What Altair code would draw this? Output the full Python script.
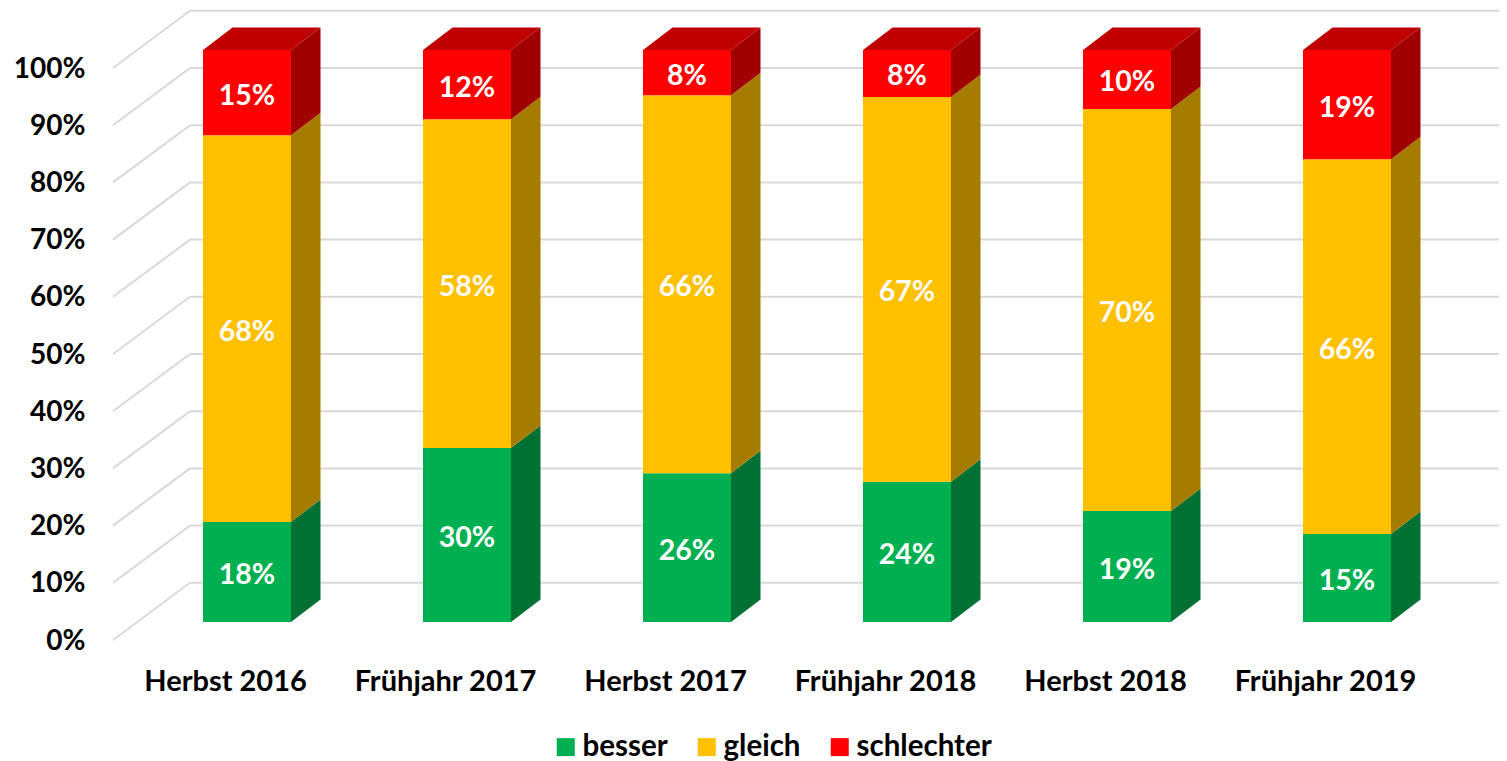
import altair as alt
import pandas as pd

categories = ["Herbst 2016", "Frühjahr 2017", "Herbst 2017", "Frühjahr 2018", "Herbst 2018", "Frühjahr 2019"]
series = ["besser", "gleich", "schlechter"]
besser = [17.5, 30.4, 26.0, 24.5, 19.4, 15.4]
gleich = [67.6, 57.5, 66.1, 67.3, 70.3, 65.5]
schlechter = [14.9, 12.1, 7.9, 8.2, 10.3, 19.1]
label_besser = [18, 30, 26, 24, 19, 15]
label_gleich = [68, 58, 66, 67, 70, 66]
label_schlechter = [15, 12, 8, 8, 10, 19]
ticks = list(range(0, 101, 10))

front_colors = ["#00B050", "#FFC000", "#FF0000"]
side_colors = ["#007033", "#A67C00", "#A00000"]
top_color = "#C00000"

FONT = "Lato"
PX_X = 220.0
PX_Y = 5.72
X_DOM = [(113 - 247) / PX_X, (1499 - 247) / PX_X]
Y_DOM = [0, 100 + 60 / PX_Y]
HALF = 44 / PX_X
DEPTH_X = 29.5 / PX_X
DEPTH_Y = 22.5 / PX_Y
LIFT = 18 / PX_Y
BACK_X = 77 / PX_X
BACK_Y = 10.0

xs = alt.Scale(domain=X_DOM, nice=False, zero=False)
ys = alt.Scale(domain=Y_DOM, nice=False, zero=False)


def X(field="x"):
    return alt.X(f"{field}:Q", scale=xs, title=None)


def Y(field="y"):
    return alt.Y(f"{field}:Q", scale=ys, title=None)


front, sides, labels, tops = [], [], [], []
for i in range(len(categories)):
    base = LIFT
    vals = [besser[i], gleich[i], schlechter[i]]
    labs = [label_besser[i], label_gleich[i], label_schlechter[i]]
    for s, v, lab in zip(series, vals, labs):
        lo, hi = base, base + v
        front.append(dict(series=s, x=i - HALF, x2=i + HALF, y=lo, y2=hi))
        sides.append(dict(series=s, i=i, x=i + HALF, y=lo, y2=hi))
        sides.append(dict(series=s, i=i, x=i + HALF + DEPTH_X, y=lo + DEPTH_Y, y2=hi + DEPTH_Y))
        labels.append(dict(x=i, y=(lo + hi) / 2, text=f"{lab}%"))
        base = hi
    tops.append(dict(i=i, y=base, x=i - HALF, x2=i + HALF))
    tops.append(dict(i=i, y=base + DEPTH_Y, x=i - HALF + DEPTH_X, x2=i + HALF + DEPTH_X))

front_df = pd.DataFrame(front)
side_df = pd.DataFrame(sides)
label_df = pd.DataFrame(labels)
top_df = pd.DataFrame(tops)

back_df = pd.DataFrame([dict(y=t + BACK_Y, x=X_DOM[0] + BACK_X, x2=X_DOM[1]) for t in ticks])
diag_df = pd.DataFrame(
    [dict(t=t, x=X_DOM[0], y=t) for t in ticks] + [dict(t=t, x=X_DOM[0] + BACK_X, y=t + BACK_Y) for t in ticks]
)
GRID = "#D9D9D9"

axis_src = pd.DataFrame(dict(x=[0, 5], y=[0, 100]))
axes = alt.Chart(axis_src).mark_point(opacity=0).encode(
    x=alt.X(
        "x:Q",
        scale=xs,
        title=None,
        axis=alt.Axis(
            values=list(range(len(categories))),
            labelExpr="[" + ",".join(f"'{c}'" for c in categories) + "][datum.value]",
            domain=False,
            ticks=False,
            grid=False,
            labelFont=FONT,
            labelFontWeight="bold",
            labelFontSize=29,
            labelColor="#000000",
            labelPadding=27,
            labelOffset=-22,
            labelLimit=300,
            labelOverlap=False,
            labelFlush=False,
        ),
    ),
    y=alt.Y(
        "y:Q",
        scale=ys,
        title=None,
        axis=alt.Axis(
            values=ticks,
            labelExpr="datum.value + '%'",
            domain=False,
            ticks=False,
            grid=False,
            labelFont=FONT,
            labelFontWeight="bold",
            labelFontSize=28,
            labelColor="#000000",
            labelPadding=28,
            labelOffset=1,
            labelOverlap=False,
            labelFlush=False,
        ),
    ),
)

grid_back = alt.Chart(back_df).mark_rule(color=GRID, strokeWidth=2).encode(x=X(), x2="x2:Q", y=Y())
grid_diag = alt.Chart(diag_df).mark_line(color=GRID, strokeWidth=2).encode(x=X(), y=Y(), detail="t:N")

side_layers = [
    alt.Chart(side_df[side_df.series == s]).mark_area(color=c).encode(x=X(), y=Y(), y2="y2:Q", detail="i:N")
    for s, c in zip(series, side_colors)
]
top_layer = alt.Chart(top_df).mark_area(color=top_color, orient="horizontal").encode(
    y=Y(), x=X(), x2="x2:Q", detail="i:N"
)

bars = alt.Chart(front_df).mark_rect().encode(
    x=X(),
    x2="x2:Q",
    y=Y(),
    y2="y2:Q",
    color=alt.Color(
        "series:N",
        scale=alt.Scale(domain=series, range=front_colors),
        legend=alt.Legend(
            title=None,
            orient="none",
            legendX=438,
            legendY=724,
            direction="horizontal",
            columns=3,
            symbolType="square",
            symbolSize=324,
            symbolStrokeWidth=0,
            labelFont=FONT,
            labelFontWeight="bold",
            labelFontSize=29.5,
            labelColor="#000000",
            labelOffset=2,
            columnPadding=24,
            labelLimit=300,
            symbolOpacity=1,
        ),
    ),
)

texts = alt.Chart(label_df).mark_text(
    color="white", font=FONT, fontWeight="bold", fontSize=28.5, align="center", baseline="middle", dy=3
).encode(x=X(), y=Y(), text="text:N")

chart = alt.layer(axes, grid_back, grid_diag, *side_layers, top_layer, bars, texts).properties(
    width=1386,
    height=632,
    padding={"left": 105, "top": 0, "right": 0, "bottom": 121},
    autosize=alt.AutoSizeParams(type="none"),
    background="white",
).configure_view(stroke=None)

chart.save("out.html", embed_options={"renderer": "svg", "actions": False})
